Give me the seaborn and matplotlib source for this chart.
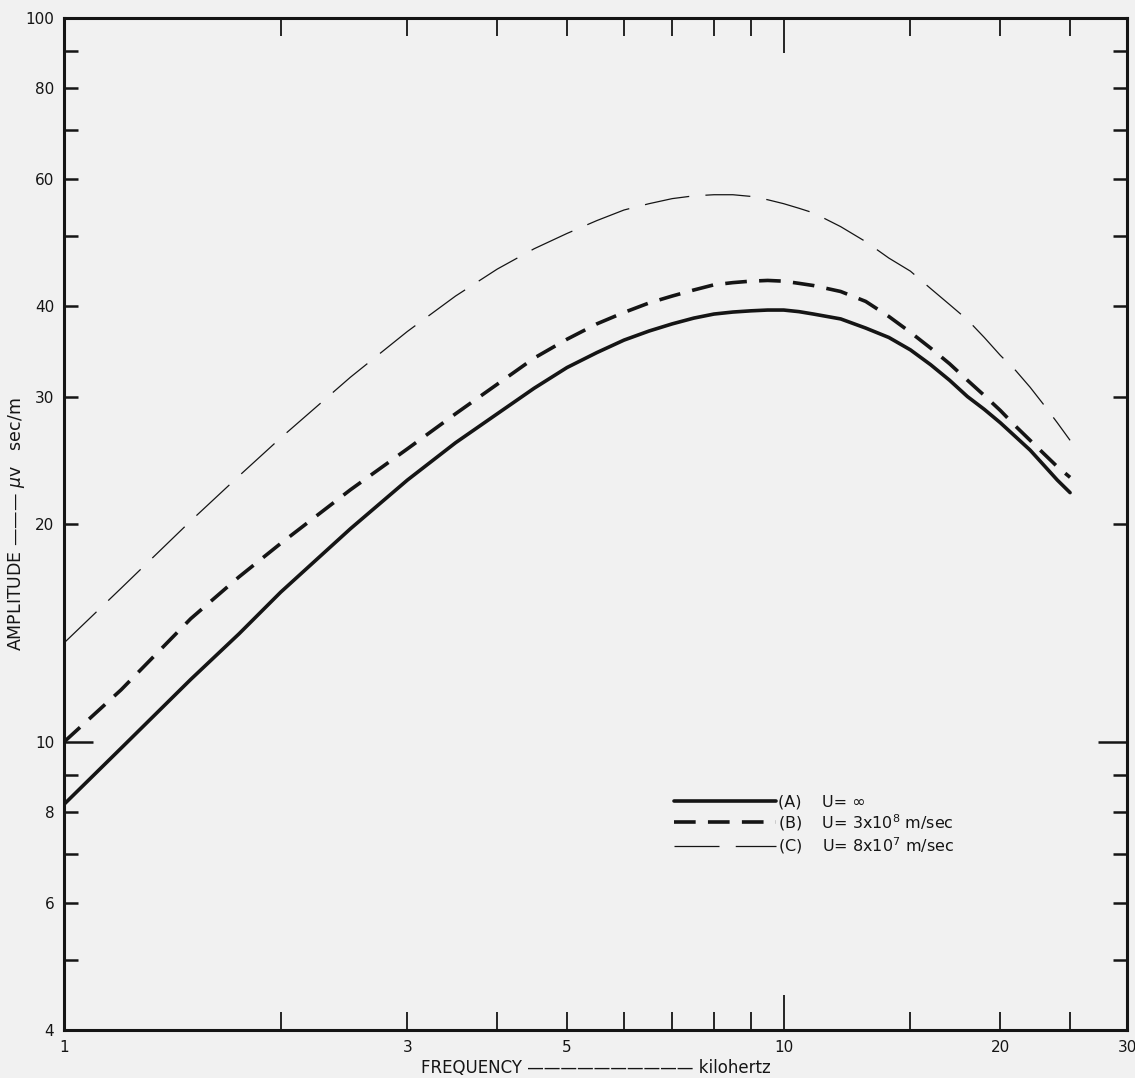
import pandas as pd
import numpy as np
import matplotlib.pyplot as plt
import seaborn as sns

sns.set_style("ticks")
plt.rcParams["font.family"] = ["DejaVu Sans"]

# Data (frequency in kHz, amplitude in uv sec/m)
freq = [1, 1.2, 1.5, 1.75, 2, 2.5, 3, 3.5, 4, 4.5, 5, 5.5, 6, 6.5, 7, 7.5, 8, 8.5, 9, 9.5,
        10, 10.5, 11, 12, 13, 14, 15, 16, 17, 18, 19, 20, 21, 22, 23, 24, 25]
amp_a = [8.2, 9.8, 12.2, 14.1, 16.1, 19.7, 23.0, 25.9, 28.4, 30.8, 32.9, 34.5, 35.9, 36.95,
         37.8, 38.5, 39.0, 39.25, 39.4, 39.5, 39.5, 39.3, 39.0, 38.4, 37.3, 36.2, 34.8, 33.2,
         31.6, 30.0, 28.8, 27.6, 26.4, 25.3, 24.1, 23.0, 22.1]
amp_b = [10.0, 11.8, 14.8, 16.9, 18.8, 22.3, 25.4, 28.4, 31.2, 33.9, 36.0, 37.8, 39.2, 40.4,
         41.3, 42.1, 42.8, 43.1, 43.3, 43.4, 43.3, 43.0, 42.7, 41.9, 40.6, 38.7, 36.8, 35.0,
         33.3, 31.6, 30.1, 28.7, 27.3, 26.1, 25.0, 24.0, 23.2]
amp_c = [13.7, 16.3, 20.2, 23.3, 26.3, 31.9, 36.9, 41.3, 45.0, 48.0, 50.4, 52.5, 54.3, 55.4,
         56.3, 56.8, 57.0, 57.0, 56.7, 56.1, 55.4, 54.6, 53.8, 51.5, 49.1, 46.6, 44.7, 42.3,
         40.2, 38.3, 36.2, 34.2, 32.6, 30.9, 29.2, 27.6, 26.1]

labels = ["(A)    U= \u221e",
          "(B)    U= 3x10$^{8}$ m/sec",
          "(C)    U= 8x10$^{7}$ m/sec"]

x_minor = [2, 3, 4, 5, 6, 7, 8, 9, 15, 20, 25, 30]
x_minor_lab = ["", "3", "", "5", "", "", "", "", "", "20", "", "30"]
y_minor = [5, 6, 7, 8, 9, 20, 30, 40, 50, 60, 70, 80, 90]
y_minor_lab = ["", "6", "", "8", "", "20", "30", "40", "", "60", "", "80", ""]

df = pd.DataFrame({"freq": freq, "A": amp_a, "B": amp_b, "C": amp_c})

bg = "#f1f1f1"
ink = "#151515"
fig = plt.figure(figsize=(11.35, 10.78), dpi=100, facecolor=bg)
ax = fig.add_axes([0.0564, 0.0445, 0.9366, 0.9388], facecolor=bg)

sns.lineplot(data=df, x="freq", y="A", ax=ax, color=ink, linewidth=2.6, label=labels[0])
sns.lineplot(data=df, x="freq", y="B", ax=ax, color=ink, linewidth=2.6,
             linestyle=(0, (6.0, 3.4)), label=labels[1])
sns.lineplot(data=df, x="freq", y="C", ax=ax, color=ink, linewidth=0.9,
             linestyle=(0, (36, 13)), label=labels[2])

ax.set_xscale("log")
ax.set_yscale("log")
ax.set_xlim(1, 30)
ax.set_ylim(4, 100)

ax.set_xticks([1, 10], labels=["1", "10"])
ax.set_xticks(x_minor, labels=x_minor_lab, minor=True)
ax.set_yticks([4, 10, 100], labels=["4", "10", "100"])
ax.set_yticks(y_minor, labels=y_minor_lab, minor=True)

ax.tick_params(axis="both", which="both", direction="in", colors=ink, labelsize=11, pad=7,
               top=True, right=True)
ax.tick_params(axis="x", which="major", length=25, width=1.3)
ax.tick_params(axis="x", which="minor", length=13, width=1.3)
ax.tick_params(axis="y", which="major", length=21, width=1.8)
ax.tick_params(axis="y", which="minor", length=10, width=1.8)

for side in ["left", "right", "top", "bottom"]:
    ax.spines[side].set_visible(True)
    ax.spines[side].set_linewidth(2.2)
    ax.spines[side].set_color(ink)

ax.set_xlabel("FREQUENCY \u2014\u2014\u2014\u2014\u2014\u2014\u2014\u2014\u2014\u2014 kilohertz",
              fontsize=12, color=ink)
ax.xaxis.set_label_coords(0.5, -0.029)
ax.set_ylabel("AMPLITUDE \u2014\u2014\u2014 $\\mu$v   sec/m", fontsize=12.5, color=ink)
ax.yaxis.set_label_coords(-0.035, 0.5)

ax.legend(loc="upper left", bbox_to_anchor=(0.56, 0.247), frameon=False,
          fontsize=11.5, handlelength=6.4, handletextpad=0.15, labelspacing=0.15,
          labelcolor=ink)

fig.savefig("out.png", dpi=100, facecolor=bg)
plt.close()
